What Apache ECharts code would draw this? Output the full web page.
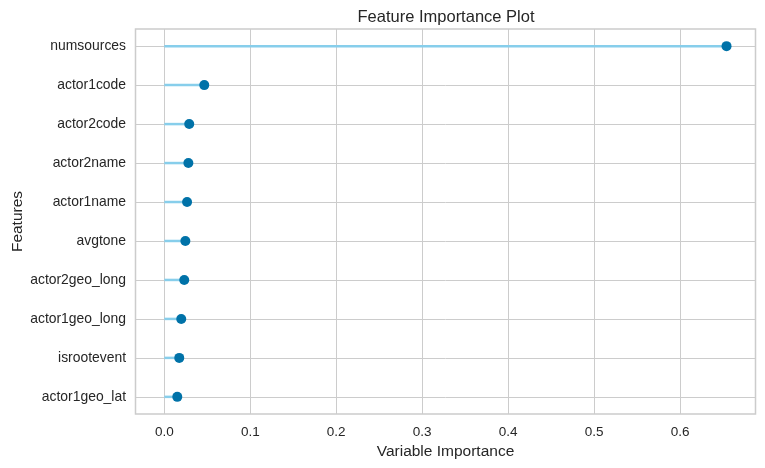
<!DOCTYPE html>
<html><head><meta charset="utf-8">
<script src="https://cdn.jsdelivr.net/npm/echarts@6/dist/echarts.min.js"></script>
<style>html,body{margin:0;padding:0;background:#fff}#c{width:765px;height:468px}</style>
</head><body><div id="c"></div>
<script>
const features = ["numsources","actor1code","actor2code","actor2name","actor1name","avgtone","actor2geo_long","actor1geo_long","isrootevent","actor1geo_lat"];
const importance = [0.654, 0.0465, 0.029, 0.028, 0.0265, 0.0245, 0.0232, 0.0197, 0.0174, 0.0151];
const xTicks = [0, 0.1, 0.2, 0.3, 0.4, 0.5, 0.6];

const rowIdx = features.map((_, i) => i);
const data = importance.map((v, i) => [v, i]);
const font = "Liberation Sans";
const chart = echarts.init(document.getElementById('c'));
chart.setOption({
  animation: false,
  backgroundColor: '#ffffff',
  title: { text: 'Feature Importance Plot', left: 441, top: 4, textAlign: 'center',
    textStyle: { fontFamily: font, fontSize: 16.5, fontWeight: 'normal', color: '#262626' } },
  grid: { left: 135.5, right: 9.5, top: 29, bottom: 54, outerBoundsMode: 'none', containLabel: false },
  xAxis: {
    type: 'value', min: -0.0335, max: 0.6877,
    name: 'Variable Importance', nameLocation: 'middle', nameGap: 30, nameMoveOverlap: false,
    nameTextStyle: { fontFamily: font, fontSize: 15.5, color: '#262626' },
    axisLine: { show: false }, axisTick: { show: false, customValues: xTicks },
    axisLabel: { customValues: xTicks, formatter: v => v.toFixed(1), fontFamily: font, fontSize: 13.5, color: '#262626', margin: 11 },
    splitLine: { show: true, lineStyle: { color: '#cccccc', width: 1 } }
  },
  yAxis: {
    type: 'value', inverse: true, min: -0.44, max: 9.44,
    name: 'Features', nameLocation: 'middle', nameGap: 110, nameRotate: 90, nameMoveOverlap: false,
    nameTextStyle: { fontFamily: font, fontSize: 15.5, color: '#262626' },
    axisLine: { show: false }, axisTick: { show: false, customValues: rowIdx },
    axisLabel: { customValues: rowIdx, formatter: v => features[Math.round(v)], fontFamily: font, fontSize: 13.9, color: '#262626', margin: 9.5 },
    splitLine: { show: true, lineStyle: { color: '#cccccc', width: 1 } }
  },
  graphic: [{ type: 'rect', shape: { x: 135.5, y: 29, width: 620, height: 385 },
    style: { fill: 'none', stroke: '#cccccc', lineWidth: 1.5 }, z: 100, silent: true }],
  series: [
    { type: 'custom', data: data, z: 3,
      renderItem: (params, api) => {
        const p0 = api.coord([0, api.value(1)]);
        const p1 = api.coord([api.value(0), api.value(1)]);
        return { type: 'line', shape: { x1: p0[0], y1: p0[1], x2: p1[0], y2: p1[1] },
          style: { stroke: '#87CEEB', lineWidth: 2.5 } };
      } },
    { type: 'scatter', data: data, symbolSize: 10, z: 5,
      itemStyle: { color: '#0072A8', opacity: 1 } }
  ]
});
</script></body></html>
